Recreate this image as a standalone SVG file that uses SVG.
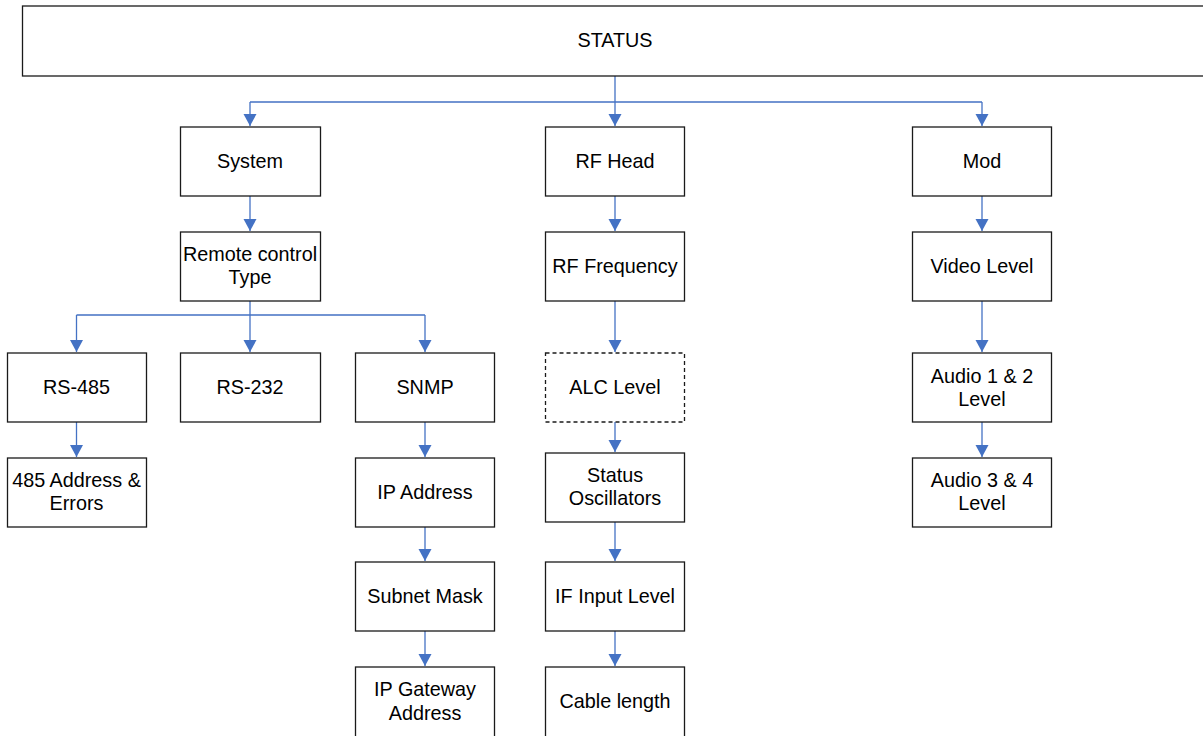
<svg xmlns="http://www.w3.org/2000/svg" width="1203" height="736" viewBox="0 0 1203 736">
<style>
.n rect{fill:#fff;stroke:#1a1a1a;stroke-width:1.3}
.n rect.d{stroke-dasharray:4,3}
.n text{font-family:"Liberation Sans",Arial,sans-serif;font-size:19.8px;fill:#000;text-anchor:middle}
.c path{fill:none;stroke:#4472C4;stroke-width:1.3}
</style>
<defs>
<marker id="a" markerUnits="userSpaceOnUse" markerWidth="14" markerHeight="13" refX="7" refY="12" orient="0" viewBox="0 0 14 13">
<path d="M0.5,0 L13.5,0 L7,12 Z" fill="#4472C4"/>
</marker>
</defs>
<g class="c">
<path d="M615,76 V102 M250,102 H982"/>
<path d="M250,102 V126" marker-end="url(#a)"/>
<path d="M615,102 V126" marker-end="url(#a)"/>
<path d="M982,102 V126" marker-end="url(#a)"/>
<path d="M250,196 V231" marker-end="url(#a)"/>
<path d="M615,196 V231" marker-end="url(#a)"/>
<path d="M982,196 V231" marker-end="url(#a)"/>
<path d="M250,301 V315 M76.5,315 H425"/>
<path d="M76.5,315 V352" marker-end="url(#a)"/>
<path d="M250,315 V352" marker-end="url(#a)"/>
<path d="M425,315 V352" marker-end="url(#a)"/>
<path d="M615,301 V352" marker-end="url(#a)"/>
<path d="M982,301 V352" marker-end="url(#a)"/>
<path d="M76.5,422 V457" marker-end="url(#a)"/>
<path d="M425,422 V457" marker-end="url(#a)"/>
<path d="M615,422 V452" marker-end="url(#a)"/>
<path d="M982,422 V457" marker-end="url(#a)"/>
<path d="M425,527 V561" marker-end="url(#a)"/>
<path d="M615,522 V561" marker-end="url(#a)"/>
<path d="M425,631 V666" marker-end="url(#a)"/>
<path d="M615,631 V666" marker-end="url(#a)"/>
</g>
<g id="status" class="n"><rect x="22.5" y="6" width="1200" height="70"/><text x="615" y="47">STATUS</text></g>
<g id="system" class="n"><rect x="180.5" y="127" width="140" height="69"/><text x="250" y="168">System</text></g>
<g id="rfhead" class="n"><rect x="545.5" y="127" width="139" height="69"/><text x="615" y="168">RF Head</text></g>
<g id="mod" class="n"><rect x="912.5" y="127" width="139" height="69"/><text x="982" y="168">Mod</text></g>
<g id="remote" class="n"><rect x="180.5" y="232" width="140" height="69"/><text x="250" y="261">Remote control</text><text x="250" y="284">Type</text></g>
<g id="rffreq" class="n"><rect x="545.5" y="232" width="139" height="69"/><text x="615" y="273">RF Frequency</text></g>
<g id="video" class="n"><rect x="912.5" y="232" width="139" height="69"/><text x="982" y="273">Video Level</text></g>
<g id="rs485" class="n"><rect x="7.5" y="353" width="139" height="69"/><text x="76.5" y="394">RS-485</text></g>
<g id="rs232" class="n"><rect x="180.5" y="353" width="140" height="69"/><text x="250" y="394">RS-232</text></g>
<g id="snmp" class="n"><rect x="355.5" y="353" width="139" height="69"/><text x="425" y="394">SNMP</text></g>
<g id="alc" class="n"><rect class="d" x="545.5" y="353" width="139" height="69"/><text x="615" y="394">ALC Level</text></g>
<g id="audio12" class="n"><rect x="912.5" y="353" width="139" height="69"/><text x="982" y="383">Audio 1 &amp; 2</text><text x="982" y="406">Level</text></g>
<g id="addr485" class="n"><rect x="7.5" y="458" width="139" height="69"/><text x="76.5" y="487">485 Address &amp;</text><text x="76.5" y="510">Errors</text></g>
<g id="ipaddr" class="n"><rect x="355.5" y="458" width="139" height="69"/><text x="425" y="499">IP Address</text></g>
<g id="statosc" class="n"><rect x="545.5" y="453" width="139" height="69"/><text x="615" y="482">Status</text><text x="615" y="505">Oscillators</text></g>
<g id="audio34" class="n"><rect x="912.5" y="458" width="139" height="69"/><text x="982" y="487">Audio 3 &amp; 4</text><text x="982" y="510">Level</text></g>
<g id="subnet" class="n"><rect x="355.5" y="562" width="139" height="69"/><text x="425" y="603">Subnet Mask</text></g>
<g id="ifinput" class="n"><rect x="545.5" y="562" width="139" height="69"/><text x="615" y="603">IF Input Level</text></g>
<g id="gateway" class="n"><rect x="355.5" y="667" width="139" height="80"/><text x="425" y="696">IP Gateway</text><text x="425" y="720">Address</text></g>
<g id="cable" class="n"><rect x="545.5" y="667" width="139" height="80"/><text x="615" y="708">Cable length</text></g>
</svg>
